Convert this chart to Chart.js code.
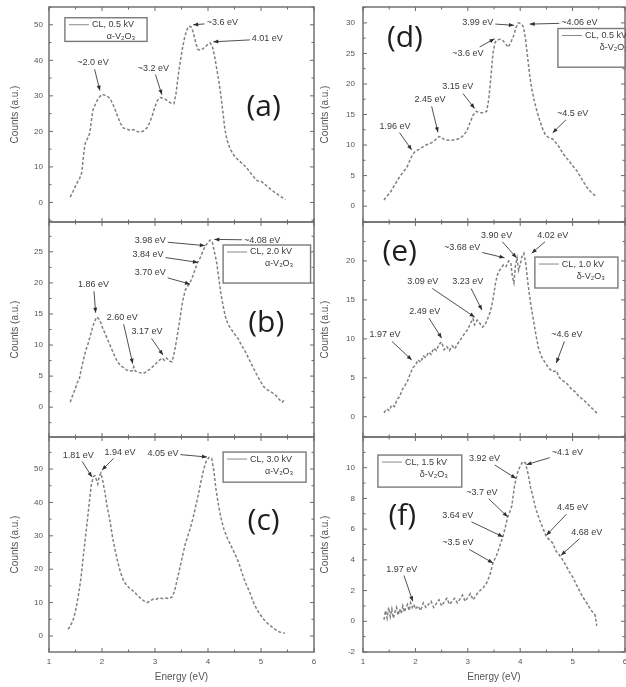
<!DOCTYPE html>
<html>
<head>
<meta charset="utf-8">
<script src="https://cdn.jsdelivr.net/npm/chart.js@4.4.1/dist/chart.umd.min.js"></script>
<style>
  html, body { margin: 0; padding: 0; background: #fff; }
  #wrap { position: relative; width: 626px; height: 687px; overflow: hidden; }
  canvas { position: absolute; }
</style>
</head>
<body>
<div id="wrap"></div>
<script>
// ---- data ----
const xTickValues = [1, 2, 3, 4, 5, 6];

const aEnergy = [1.40,1.45,1.49,1.54,1.58,1.62,1.65,1.68,1.72,1.77,1.80,1.83,1.87,1.92,1.96,2.00,2.05,2.10,2.15,2.20,2.25,2.30,2.35,2.40,2.47,2.53,2.60,2.66,2.72,2.78,2.85,2.90,2.95,3.00,3.05,3.10,3.15,3.20,3.25,3.30,3.36,3.40,3.44,3.48,3.52,3.56,3.60,3.64,3.68,3.72,3.76,3.80,3.85,3.90,3.95,4.00,4.04,4.08,4.12,4.16,4.20,4.24,4.28,4.32,4.36,4.42,4.50,4.58,4.66,4.73,4.80,4.87,4.93,5.00,5.05,5.12,5.20,5.27,5.35,5.42,5.46];
const aCounts = [1.5,3.0,4.3,5.8,6.8,8.5,13.0,16.5,17.8,19.5,23.0,26.0,27.5,29.0,29.8,30.4,30.2,29.9,29.3,27.8,26.0,24.0,22.2,21.0,20.6,20.3,20.5,20.0,19.8,20.1,21.0,22.5,24.5,27.0,28.8,29.5,29.3,29.0,28.4,28.0,27.8,31.0,36.0,40.0,43.5,46.5,48.5,49.6,49.4,48.0,45.5,43.2,42.8,43.2,43.8,44.5,44.9,44.0,41.5,38.0,34.5,30.5,25.5,20.5,17.5,15.0,13.0,11.8,10.8,9.7,8.4,7.0,6.1,6.0,5.4,4.5,3.5,2.7,1.9,1.2,0.8];
const aTicks = [0, 10, 20, 30, 40, 50];
const aNotes = [
  ['~2.0 eV', 1.96, 31.5, 1.83, 39.3],
  ['~3.2 eV', 3.13, 30.3, 2.97, 37.8],
  ['~3.6 eV', 3.72, 50.0, 4.27, 50.6],
  ['4.01 eV', 4.10, 45.2, 5.12, 46.0]
];

const bEnergy = [1.40,1.45,1.50,1.53,1.57,1.62,1.66,1.70,1.74,1.78,1.82,1.86,1.90,1.93,1.96,2.00,2.05,2.10,2.15,2.20,2.25,2.30,2.35,2.40,2.46,2.52,2.58,2.60,2.63,2.70,2.78,2.85,2.92,2.98,3.04,3.09,3.14,3.18,3.22,3.27,3.32,3.37,3.42,3.47,3.52,3.57,3.62,3.66,3.70,3.75,3.80,3.85,3.90,3.95,4.00,4.04,4.08,4.12,4.16,4.20,4.24,4.28,4.33,4.38,4.44,4.50,4.57,4.63,4.70,4.77,4.84,4.91,4.98,5.05,5.12,5.20,5.28,5.35,5.40,5.45];
const bCounts = [0.8,2.0,3.0,3.9,4.5,6.5,8.0,9.3,10.3,11.5,12.8,13.8,14.5,14.3,14.0,13.0,12.0,11.0,10.0,9.0,8.0,7.2,6.7,6.4,6.0,5.8,5.9,6.5,5.8,5.6,5.4,5.8,6.2,6.7,7.2,7.6,7.9,7.5,7.9,7.4,7.3,9.0,11.5,14.2,17.0,18.8,19.5,20.0,20.8,22.0,23.2,24.0,25.0,26.0,26.5,26.9,26.6,25.0,23.5,21.0,18.5,16.5,14.5,13.3,12.5,11.8,11.0,10.0,9.0,7.8,6.6,5.4,4.3,3.3,2.8,2.4,1.9,1.2,0.8,1.3];
const bTicks = [0, 5, 10, 15, 20, 25];
const bNotes = [
  ['3.98 eV', 3.94, 26.0, 2.91, 26.8],
  ['~4.08 eV', 4.12, 27.0, 5.02, 26.9],
  ['3.84 eV', 3.81, 23.3, 2.87, 24.5],
  ['3.70 eV', 3.66, 19.8, 2.91, 21.6],
  ['1.86 eV', 1.88, 15.2, 1.84, 19.7],
  ['2.60 eV', 2.58, 7.0, 2.38, 14.4],
  ['3.17 eV', 3.15, 8.4, 2.85, 12.1]
];

const cEnergy = [1.36,1.40,1.45,1.50,1.55,1.60,1.64,1.68,1.72,1.76,1.80,1.84,1.87,1.90,1.92,1.95,1.98,2.02,2.06,2.10,2.15,2.20,2.25,2.30,2.35,2.40,2.46,2.52,2.58,2.65,2.72,2.78,2.85,2.90,2.96,3.02,3.08,3.14,3.20,3.26,3.32,3.37,3.42,3.47,3.52,3.57,3.62,3.67,3.72,3.77,3.82,3.87,3.92,3.97,4.02,4.07,4.11,4.15,4.20,4.25,4.30,4.36,4.42,4.48,4.54,4.60,4.66,4.72,4.79,4.86,4.92,4.98,5.05,5.12,5.20,5.28,5.35,5.45];
const cCounts = [2.0,3.0,4.5,7.5,11.7,17.0,22.8,28.5,34.0,40.0,45.5,47.8,48.0,46.5,45.5,48.0,48.8,46.0,42.5,38.5,34.5,29.5,25.5,22.0,19.0,16.8,15.3,14.3,13.6,12.5,11.4,10.6,10.0,10.4,11.0,11.0,11.4,11.2,11.4,11.2,11.6,13.5,17.0,20.5,24.0,27.5,30.0,32.5,35.5,39.0,42.5,46.5,50.0,52.5,53.5,53.2,49.5,44.0,39.0,35.0,32.0,29.5,27.5,25.5,23.5,21.0,18.0,15.5,13.0,10.0,8.0,6.5,5.0,3.8,2.8,1.8,1.2,0.8];
const cTicks = [0, 10, 20, 30, 40, 50];
const cNotes = [
  ['1.81 eV', 1.81, 47.6, 1.55, 54.2],
  ['1.94 eV', 2.00, 49.7, 2.34, 55.1],
  ['4.05 eV', 3.98, 53.6, 3.15, 54.8]
];

const dEnergy = [1.40,1.45,1.51,1.60,1.70,1.77,1.84,1.90,1.95,2.00,2.07,2.14,2.20,2.27,2.33,2.40,2.45,2.50,2.55,2.62,2.70,2.78,2.85,2.92,2.98,3.04,3.10,3.16,3.23,3.30,3.36,3.40,3.44,3.48,3.52,3.56,3.62,3.67,3.72,3.77,3.82,3.87,3.92,3.96,4.01,4.06,4.10,4.14,4.18,4.22,4.27,4.32,4.37,4.43,4.48,4.53,4.58,4.62,4.68,4.75,4.81,4.88,4.95,5.02,5.08,5.15,5.22,5.28,5.35,5.42,5.46];
const dCounts = [1.0,1.6,2.1,3.4,4.8,5.6,6.4,7.6,8.5,9.0,9.3,9.7,10.0,10.2,10.5,11.0,11.4,11.3,10.9,10.8,10.8,10.9,11.1,11.6,12.3,13.6,14.9,15.5,15.3,15.3,15.5,17.5,21.0,25.0,26.8,27.2,27.3,27.1,26.6,26.0,26.8,27.8,29.2,30.0,29.9,29.4,27.5,24.5,21.5,19.2,17.2,15.5,14.1,12.6,11.7,11.3,11.1,11.0,10.4,9.6,8.7,7.9,7.2,6.4,5.8,4.8,3.8,3.0,2.3,1.8,1.5];
const dTicks = [0, 5, 10, 15, 20, 25, 30];
const dNotes = [
  ['3.99 eV', 3.88, 29.6, 3.19, 30.0],
  ['~4.06 eV', 4.18, 29.8, 5.13, 30.0],
  ['~3.6 eV', 3.51, 27.4, 3.00, 25.0],
  ['3.15 eV', 3.13, 16.0, 2.81, 19.5],
  ['2.45 eV', 2.43, 12.1, 2.28, 17.4],
  ['1.96 eV', 1.93, 9.2, 1.61, 13.1],
  ['~4.5 eV', 4.62, 12.0, 5.00, 15.2]
];

const eEnergy = [1.40,1.45,1.50,1.55,1.60,1.65,1.70,1.75,1.80,1.85,1.90,1.95,2.00,2.05,2.10,2.15,2.20,2.25,2.30,2.35,2.40,2.45,2.50,2.55,2.60,2.65,2.70,2.75,2.80,2.85,2.90,2.95,3.00,3.05,3.10,3.13,3.18,3.23,3.28,3.33,3.38,3.43,3.48,3.53,3.58,3.63,3.68,3.73,3.78,3.82,3.85,3.88,3.91,3.94,3.97,4.00,4.03,4.07,4.11,4.15,4.20,4.25,4.30,4.35,4.40,4.47,4.55,4.62,4.69,4.75,4.82,4.90,4.97,5.05,5.12,5.20,5.28,5.35,5.42,5.48];
const eCounts = [0.5,1.0,0.8,1.5,1.3,2.2,2.6,3.5,4.0,4.6,5.5,6.3,6.6,7.3,7.0,7.8,7.6,8.3,8.0,8.8,8.5,9.3,9.6,8.6,9.0,8.5,9.1,8.7,9.3,9.8,10.3,10.8,11.2,12.0,12.6,11.8,12.4,12.0,11.5,11.8,12.6,13.5,15.0,17.2,18.6,19.0,19.5,19.3,20.0,19.8,18.0,17.2,19.5,20.4,18.8,19.5,20.5,21.0,19.5,17.0,14.5,12.5,10.5,8.8,7.8,7.0,6.2,5.8,5.9,5.0,4.6,4.2,3.6,3.2,2.6,2.2,1.7,1.2,0.8,0.3];
const eTicks = [0, 5, 10, 15, 20];
const eNotes = [
  ['3.90 eV', 3.93, 20.4, 3.55, 23.3],
  ['4.02 eV', 4.22, 21.0, 4.62, 23.3],
  ['~3.68 eV', 3.70, 20.4, 2.89, 21.7],
  ['3.09 eV', 3.13, 12.8, 2.14, 17.3],
  ['3.23 eV', 3.27, 13.7, 3.00, 17.3],
  ['2.49 eV', 2.50, 10.1, 2.18, 13.5],
  ['1.97 eV', 1.93, 7.3, 1.42, 10.5],
  ['~4.6 eV', 4.69, 6.9, 4.89, 10.5]
];

const fEnergy = [1.40,1.43,1.46,1.49,1.52,1.55,1.58,1.61,1.64,1.67,1.70,1.73,1.76,1.79,1.82,1.85,1.88,1.91,1.94,1.97,2.00,2.05,2.10,2.15,2.20,2.30,2.35,2.45,2.50,2.60,2.65,2.75,2.80,2.90,2.95,3.05,3.10,3.20,3.30,3.36,3.42,3.48,3.55,3.61,3.67,3.72,3.76,3.80,3.84,3.89,3.95,4.00,4.05,4.10,4.15,4.20,4.25,4.30,4.37,4.44,4.50,4.56,4.62,4.68,4.75,4.81,4.88,4.94,5.00,5.07,5.13,5.19,5.25,5.32,5.38,5.43,5.46];
const fCounts = [0.1,0.7,0.2,0.9,0.3,0.8,0.2,0.6,0.9,0.4,0.8,0.5,1.0,0.6,0.9,1.1,0.7,1.2,0.9,1.1,0.8,1.0,0.7,1.2,0.9,1.3,0.9,1.4,1.0,1.5,1.1,1.5,1.2,1.7,1.3,1.8,1.4,1.9,2.2,2.5,3.0,3.8,4.3,4.9,5.5,6.2,6.8,7.1,7.5,8.8,9.7,10.1,10.4,10.3,9.6,8.7,8.0,7.3,6.6,6.0,5.5,5.3,5.1,4.6,4.3,4.0,3.6,3.2,2.9,2.4,2.0,1.6,1.3,0.9,0.6,0.4,-0.3];
const fTicks = [-2, 0, 2, 4, 6, 8, 10];
const fNotes = [
  ['3.92 eV', 3.92, 9.3, 3.32, 10.6],
  ['~4.1 eV', 4.12, 10.2, 4.90, 11.0],
  ['~3.7 eV', 3.76, 6.8, 3.27, 8.4],
  ['3.64 eV', 3.67, 5.5, 2.81, 6.9],
  ['~3.5 eV', 3.48, 3.8, 2.81, 5.1],
  ['4.45 eV', 4.50, 5.6, 5.00, 7.4],
  ['4.68 eV', 4.78, 4.3, 5.27, 5.8],
  ['1.97 eV', 1.95, 1.3, 1.74, 3.4]
];

// ---- panel setup ----
const rowTops = [7, 222, 437];
const cols = [
  { left: 0, width: 316, padRight: 2, titlePad: 9, tickPad: 6 },
  { left: 314, width: 312, padRight: 1, titlePad: 5, tickPad: 8 }
];

const panels = [
  { letter: '(a)', col: 0, row: 0, xs: aEnergy, ys: aCounts, min: -5.5, max: 55, ticks: aTicks, notes: aNotes, kv: 'CL, 0.5 kV', phase: 'α-V₂O₃', letterAt: [0.81, 0.465], box: [0.06, 0.05, 0.31, 0.11] },
  { letter: '(b)', col: 0, row: 1, xs: bEnergy, ys: bCounts, min: -4.8, max: 29.8, ticks: bTicks, notes: bNotes, kv: 'CL, 2.0 kV', phase: 'α-V₂O₃', letterAt: [0.82, 0.47], box: [0.657, 0.107, 0.33, 0.177] },
  { letter: '(c)', col: 0, row: 2, xs: cEnergy, ys: cCounts, min: -4.8, max: 59.6, ticks: cTicks, notes: cNotes, kv: 'CL, 3.0 kV', phase: 'α-V₂O₃', letterAt: [0.81, 0.395], box: [0.657, 0.07, 0.313, 0.14] },
  { letter: '(d)', col: 1, row: 0, xs: dEnergy, ys: dCounts, min: -2.6, max: 32.6, ticks: dTicks, notes: dNotes, kv: 'CL, 0.5 kV', phase: 'δ-V₂O₃', letterAt: [0.16, 0.144], box: [0.744, 0.10, 0.26, 0.18] },
  { letter: '(e)', col: 1, row: 1, xs: eEnergy, ys: eCounts, min: -2.6, max: 25, ticks: eTicks, notes: eNotes, kv: 'CL, 1.0 kV', phase: 'δ-V₂O₃', letterAt: [0.14, 0.14], box: [0.656, 0.163, 0.317, 0.144] },
  { letter: '(f)', col: 1, row: 2, xs: fEnergy, ys: fCounts, min: -2, max: 12, ticks: fTicks, notes: fNotes, kv: 'CL, 1.5 kV', phase: 'δ-V₂O₃', letterAt: [0.15, 0.37], box: [0.057, 0.084, 0.32, 0.149] }
];

const textFont = '"Liberation Sans", "DejaVu Sans", Arial, sans-serif';

// draws the frame, inward ticks, arrows with labels, legend box and panel letter
const panelDecor = {
  id: 'panelDecor',
  afterDraw(chart, args, opts) {
    const { ctx, chartArea: ca, scales: { x, y } } = chart;
    const p = opts.panel;
    ctx.save();

    // frame
    ctx.strokeStyle = '#727272';
    ctx.lineWidth = 1.5;
    ctx.strokeRect(ca.left, ca.top, ca.right - ca.left, ca.bottom - ca.top);

    // ticks, pointing into the plot on all four sides
    ctx.lineWidth = 1;
    ctx.strokeStyle = '#6a6a6a';
    const ys = [];
    const step = p.ticks[1] - p.ticks[0];
    for (let v = p.ticks[0] - step * 2; v <= p.max; v += step / 2) {
      if (v >= p.min && v <= p.max) ys.push([v, Math.abs((v - p.ticks[0]) / step % 1) < 1e-6]);
    }
    ys.forEach(([v, major]) => {
      const py = y.getPixelForValue(v);
      const len = major ? 4 : 2.5;
      ctx.beginPath();
      ctx.moveTo(ca.left, py); ctx.lineTo(ca.left + len, py);
      ctx.moveTo(ca.right, py); ctx.lineTo(ca.right - len, py);
      ctx.stroke();
    });
    for (let v = xTickValues[0]; v <= xTickValues[xTickValues.length - 1]; v += 0.5) {
      const px = x.getPixelForValue(v);
      const len = Number.isInteger(v) ? 4 : 2.5;
      ctx.beginPath();
      ctx.moveTo(px, ca.bottom); ctx.lineTo(px, ca.bottom - len);
      ctx.moveTo(px, ca.top); ctx.lineTo(px, ca.top + len);
      ctx.stroke();
    }

    // arrows and peak labels
    ctx.font = '9px ' + textFont;
    ctx.textAlign = 'center';
    ctx.textBaseline = 'middle';
    p.notes.forEach(([label, tx, ty, lx, ly]) => {
      const tpx = x.getPixelForValue(tx), tpy = y.getPixelForValue(ty);
      const lpx = x.getPixelForValue(lx), lpy = y.getPixelForValue(ly);
      const hw = ctx.measureText(label).width / 2 + 2, hh = 6.5;
      const dx = tpx - lpx, dy = tpy - lpy;
      const t = Math.min(dx ? hw / Math.abs(dx) : Infinity, dy ? hh / Math.abs(dy) : Infinity);
      const sx = lpx + dx * t, sy = lpy + dy * t;
      ctx.strokeStyle = '#3c3c3c';
      ctx.lineWidth = 0.9;
      ctx.beginPath();
      ctx.moveTo(sx, sy); ctx.lineTo(tpx, tpy);
      ctx.stroke();
      const ang = Math.atan2(tpy - sy, tpx - sx);
      ctx.fillStyle = '#2e2e2e';
      ctx.beginPath();
      ctx.moveTo(tpx, tpy);
      ctx.lineTo(tpx - 5 * Math.cos(ang) + 2 * Math.sin(ang), tpy - 5 * Math.sin(ang) - 2 * Math.cos(ang));
      ctx.lineTo(tpx - 5 * Math.cos(ang) - 2 * Math.sin(ang), tpy - 5 * Math.sin(ang) + 2 * Math.cos(ang));
      ctx.closePath();
      ctx.fill();
      ctx.fillStyle = '#3a3a3a';
      ctx.fillText(label, lpx, lpy);
    });

    // legend box
    const w = ca.right - ca.left, h = ca.bottom - ca.top;
    const bx = ca.left + p.box[0] * w, by = ca.top + p.box[1] * h;
    const bw = Math.min(p.box[2] * w, ca.right - bx), bh = p.box[3] * h;
    ctx.fillStyle = '#fff';
    ctx.fillRect(bx, by, bw, bh);
    ctx.strokeStyle = '#7a7a7a';
    ctx.lineWidth = 1.4;
    ctx.strokeRect(bx, by, bw, bh);
    ctx.strokeStyle = '#888';
    ctx.lineWidth = 1;
    ctx.beginPath();
    ctx.moveTo(bx + 4, by + 7); ctx.lineTo(bx + 24, by + 7);
    ctx.stroke();
    ctx.fillStyle = '#3a3a3a';
    ctx.font = '9px ' + textFont;
    ctx.textAlign = 'left';
    ctx.fillText(p.kv, bx + 27, by + 7);
    ctx.textAlign = 'center';
    ctx.fillText(p.phase, bx + 56, by + 19);

    // panel letter
    ctx.fillStyle = '#1e1e1e';
    ctx.font = '30px "Open Sans", Lato, sans-serif';
    ctx.fillText(p.letter, ca.left + p.letterAt[0] * w, ca.top + p.letterAt[1] * h);
    ctx.restore();
  }
};

const wrap = document.getElementById('wrap');
panels.forEach(p => {
  const col = cols[p.col];
  const isBottom = p.row === 2;
  const canvas = document.createElement('canvas');
  canvas.width = col.width;
  canvas.height = isBottom ? 687 - (rowTops[2] - 6) : 227;
  canvas.style.left = col.left + 'px';
  canvas.style.top = (rowTops[p.row] - 6) + 'px';
  canvas.style.width = canvas.width + 'px';
  canvas.style.height = canvas.height + 'px';
  wrap.appendChild(canvas);

  new Chart(canvas, {
    type: 'line',
    data: {
      datasets: [{
        data: p.xs.map((v, i) => ({ x: v, y: p.ys[i] })),
        borderColor: '#808080',
        borderWidth: 1.5,
        borderDash: [3, 2],
        pointRadius: 0,
        tension: 0
      }]
    },
    options: {
      responsive: false,
      animation: false,
      layout: { padding: { top: 6, right: col.padRight, bottom: isBottom ? 0 : 6, left: 0 } },
      plugins: {
        legend: { display: false },
        tooltip: { enabled: false },
        panelDecor: { panel: p }
      },
      scales: {
        x: {
          type: 'linear',
          min: xTickValues[0],
          max: xTickValues[xTickValues.length - 1],
          afterBuildTicks: s => { s.ticks = xTickValues.map(v => ({ value: v })); },
          grid: { display: false, drawTicks: false },
          border: { display: false },
          ticks: { display: isBottom, padding: 5, color: '#555', font: { size: 8, family: textFont } },
          title: { display: isBottom, text: 'Energy (eV)', color: '#555', padding: { top: 0, bottom: 4 }, font: { size: 10, family: textFont } },
          afterFit: s => {
            s.height = isBottom ? 35 : 0;
            s.paddingLeft = 0; s.paddingRight = 0;
          }
        },
        y: {
          type: 'linear',
          min: p.min,
          max: p.max,
          afterBuildTicks: s => { s.ticks = p.ticks.map(v => ({ value: v })); },
          grid: { display: false, drawTicks: false },
          border: { display: false },
          ticks: { padding: col.tickPad, color: '#555', font: { size: 8, family: textFont } },
          title: { display: true, text: 'Counts (a.u.)', color: '#555', padding: { top: col.titlePad, bottom: 0 }, font: { size: 10, family: textFont } },
          afterFit: s => {
            s.width = 49;
            s.paddingTop = 0; s.paddingBottom = 0;
          }
        }
      }
    },
    plugins: [panelDecor]
  });
});
</script>
</body>
</html>
